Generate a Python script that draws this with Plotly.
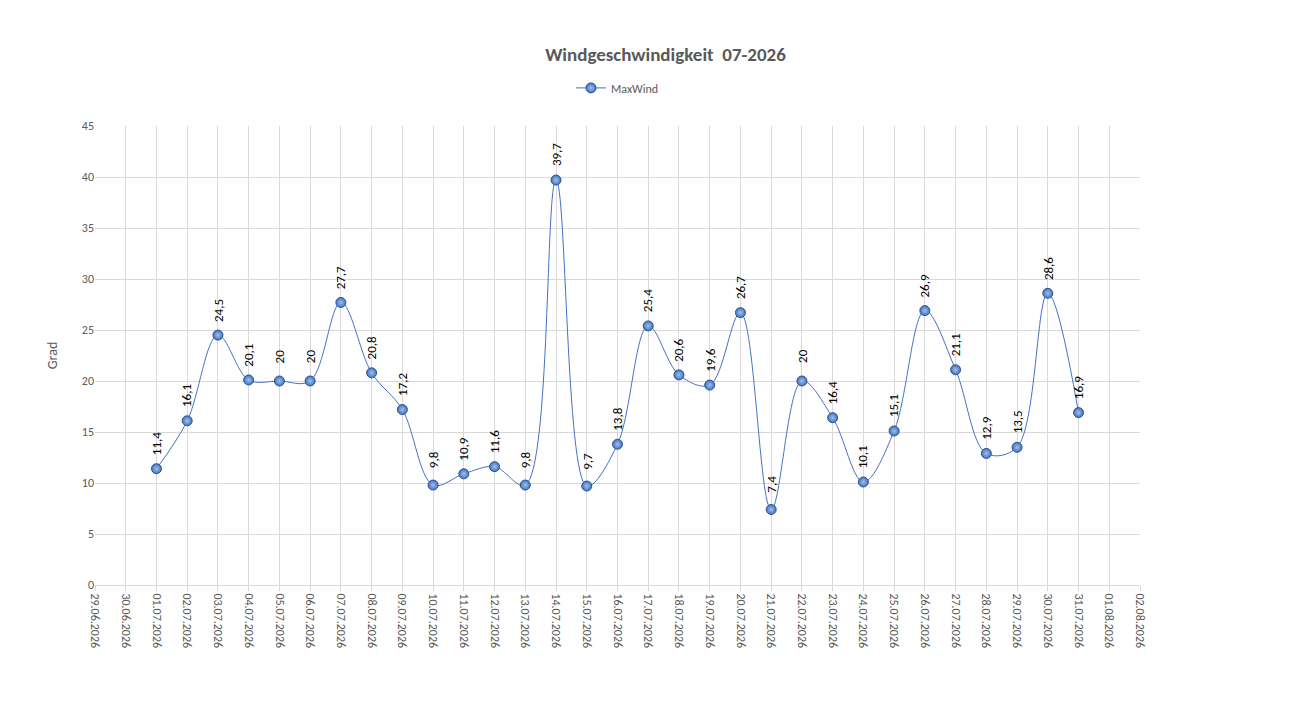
import pandas as pd
import plotly.graph_objects as go

dates = pd.date_range("2026-06-29", "2026-08-02", freq="D")
tick_labels = [d.strftime("%d.%m.%Y") for d in dates]

wind_dates = pd.date_range("2026-07-01", "2026-07-31", freq="D")
max_wind = [11.4, 16.1, 24.5, 20.1, 20, 20, 27.7, 20.8, 17.2, 9.8,
            10.9, 11.6, 9.8, 39.7, 9.7, 13.8, 25.4, 20.6, 19.6, 26.7,
            7.4, 20, 16.4, 10.1, 15.1, 26.9, 21.1, 12.9, 13.5, 28.6, 16.9]

labels = [str(v).replace(".", ",") for v in max_wind]

fig = go.Figure()
fig.add_trace(go.Scatter(
    x=wind_dates, y=max_wind, name="MaxWind",
    mode="lines+markers",
    line=dict(shape="spline", smoothing=1.0, color="#4472C4", width=1),
    marker=dict(size=10, color="#4472C4", line=dict(color="#2F528F", width=1),
                gradient=dict(type="radial", color="#9DC3E6")),
    cliponaxis=False,
))

# rotated data labels
for d, v, t in zip(wind_dates, max_wind, labels):
    fig.add_annotation(x=d, y=v, text=t, textangle=-90, showarrow=False,
                       yshift=25, font=dict(size=13, color="black",
                                            family="Calibri, Liberation Sans, Arial"))

fig.update_layout(
    width=1315, height=714,
    paper_bgcolor="white", plot_bgcolor="white",
    font=dict(family="Calibri, Liberation Sans, Arial", color="#595959", size=12),
    title=dict(text="<b>Windgeschwindigkeit  07-2026</b>", x=0.5, xanchor="center",
               y=0.935, yanchor="middle", font=dict(size=19, color="#595959")),
    legend=dict(orientation="h", x=0.5, xanchor="center", y=1.083, yanchor="middle",
                font=dict(size=12, color="#595959")),
    margin=dict(l=87, r=183, t=118, b=137),
    showlegend=True,
)
fig.update_xaxes(
    range=[dates[0], dates[-1]], tickvals=list(dates), ticktext=tick_labels,
    tickangle=90, showgrid=True, gridcolor="#D9D9D9", showline=True,
    linecolor="#D9D9D9", ticks="outside", ticklen=5, tickcolor="#D9D9D9",
    tickfont=dict(size=12, color="#595959"),
)
fig.update_yaxes(
    range=[0, 45], dtick=5, showgrid=True, gridcolor="#D9D9D9",
    zeroline=False, showline=False, title=dict(text="Grad", standoff=20),
    tickfont=dict(size=12, color="#595959"),
)

fig.write_html("out.html")
